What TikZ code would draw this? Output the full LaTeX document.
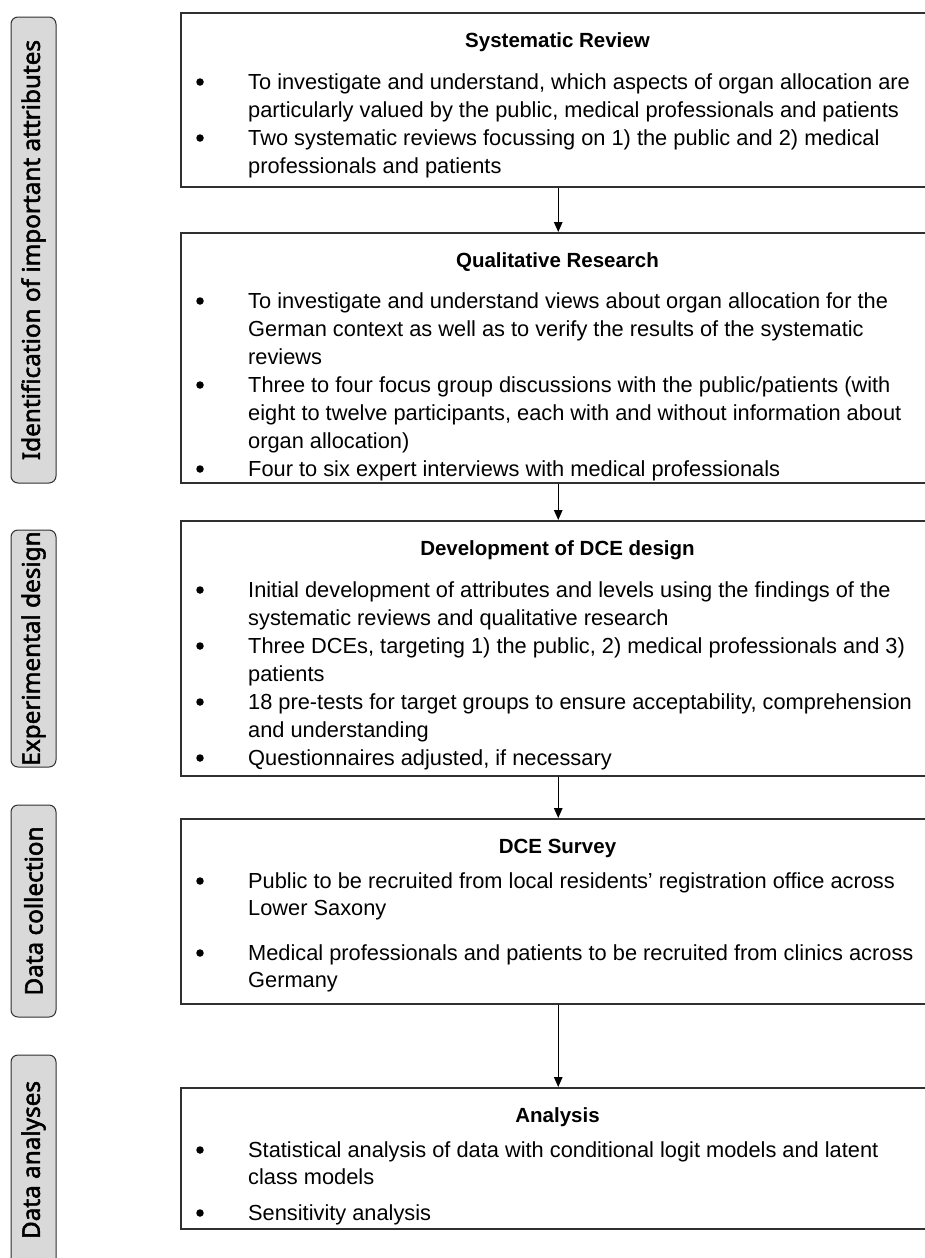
\documentclass[tikz,border=0pt]{standalone}
\usepackage{fontspec}
\setmainfont{Liberation Sans}
\newfontfamily\sidefont[FakeBold=2.2]{Noto Sans}
\usetikzlibrary{arrows.meta}
\definecolor{sidegray}{HTML}{D9D9D9}
\definecolor{edge}{HTML}{303030}
\newcommand\Bline[3]{\node[txt] (#1) at (248,-#2) {#3};}
\newcommand\Bdot[2]{\node[bul] (#1) at (200,-#2) {};}
\begin{document}
\begin{tikzpicture}[x=1pt,y=1pt,
 mainbox/.style={draw=edge, line width=1.5pt, minimum width=755pt, anchor=north west, inner sep=0pt},
 sidebox/.style={draw=edge, fill=sidegray, line width=1pt, rounded corners=7pt, rotate=90, minimum height=45pt, inner sep=0pt, font=\sidefont\fontsize{24.3}{26}\selectfont},
 ttl/.style={font=\bfseries\fontsize{20.5}{24}\selectfont, anchor=mid, inner sep=0pt, yshift=-5pt},
 txt/.style={font=\fontsize{21.8}{26}\selectfont, anchor=mid west, inner sep=0pt, yshift=-5pt},
 bul/.style={circle, fill=black, minimum size=7.5pt, inner sep=0pt},
 flow/.style={draw=black, line width=1.3pt, -{Triangle[length=10pt,width=8.5pt]}}]
\useasboundingbox (0,0) rectangle (925,-1258);
\clip (0,0) rectangle (925,-1258);

% side labels
\node[sidebox, minimum width=466pt] (s1) at (33.5,-250) {Identification of important attributes};
\node[sidebox, minimum width=237pt] (s2) at (33.5,-648.5) {Experimental design};
\node[sidebox, minimum width=212pt] (s3) at (33.5,-911) {Data collection};
\node[sidebox, minimum width=210pt] (s4) at (33.5,-1160) {Data analyses};

% main boxes
\node[mainbox, minimum height=174pt] (b1) at (180,-12) {};
\node[mainbox, minimum height=250pt] (b2) at (180,-232) {};
\node[mainbox, minimum height=255pt] (b3) at (180,-520) {};
\node[mainbox, minimum height=185pt] (b4) at (180,-818) {};
\node[mainbox, minimum height=141pt] (b5) at (180,-1087) {};

\draw[flow] (b1.south) -- (b2.north);
\draw[flow] (b2.south) -- (b3.north);
\draw[flow] (b3.south) -- (b4.north);
\draw[flow] (b4.south) -- (b5.north);

% box 1
\node[ttl] (t1) at (557.5,-40) {Systematic Review};
\Bdot{d1a}{82}
\Bline{l1a}{82}{To investigate and understand, which aspects of organ allocation are}
\Bline{l1b}{110}{particularly valued by the public, medical professionals and patients}
\Bdot{d1b}{138}
\Bline{l1c}{138}{Two systematic reviews focussing on 1) the public and 2) medical}
\Bline{l1d}{166}{professionals and patients}

% box 2
\node[ttl] (t2) at (557.5,-260) {Qualitative Research};
\Bdot{d2a}{301}
\Bline{l2a}{301}{To investigate and understand views about organ allocation for the}
\Bline{l2b}{329}{German context as well as to verify the results of the systematic}
\Bline{l2c}{357}{reviews}
\Bdot{d2b}{385}
\Bline{l2d}{385}{Three to four focus group discussions with the public/patients (with}
\Bline{l2e}{413}{eight to twelve participants, each with and without information about}
\Bline{l2f}{441}{organ allocation)}
\Bdot{d2c}{469}
\Bline{l2g}{469}{Four to six expert interviews with medical professionals}

% box 3
\node[ttl] (t3) at (557.5,-548) {Development of DCE design};
\Bdot{d3a}{590}
\Bline{l3a}{590}{Initial development of attributes and levels using the findings of the}
\Bline{l3b}{618}{systematic reviews and qualitative research}
\Bdot{d3b}{646}
\Bline{l3c}{646}{Three DCEs, targeting 1) the public, 2) medical professionals and 3)}
\Bline{l3d}{674}{patients}
\Bdot{d3c}{702}
\Bline{l3e}{702}{18 pre-tests for target groups to ensure acceptability, comprehension}
\Bline{l3f}{730}{and understanding}
\Bdot{d3d}{758}
\Bline{l3g}{758}{Questionnaires adjusted, if necessary}

% box 4
\node[ttl] (t4) at (557.5,-846) {DCE Survey};
\Bdot{d4a}{881}
\Bline{l4a}{881}{Public to be recruited from local residents’ registration office across}
\Bline{l4b}{908}{Lower Saxony}
\Bdot{d4b}{953}
\Bline{l4c}{953}{Medical professionals and patients to be recruited from clinics across}
\Bline{l4d}{980}{Germany}

% box 5
\node[ttl] (t5) at (557.5,-1115) {Analysis};
\Bdot{d5a}{1150}
\Bline{l5a}{1150}{Statistical analysis of data with conditional logit models and latent}
\Bline{l5b}{1177}{class models}
\Bdot{d5b}{1213}
\Bline{l5c}{1213}{Sensitivity analysis}
\end{tikzpicture}
\end{document}
